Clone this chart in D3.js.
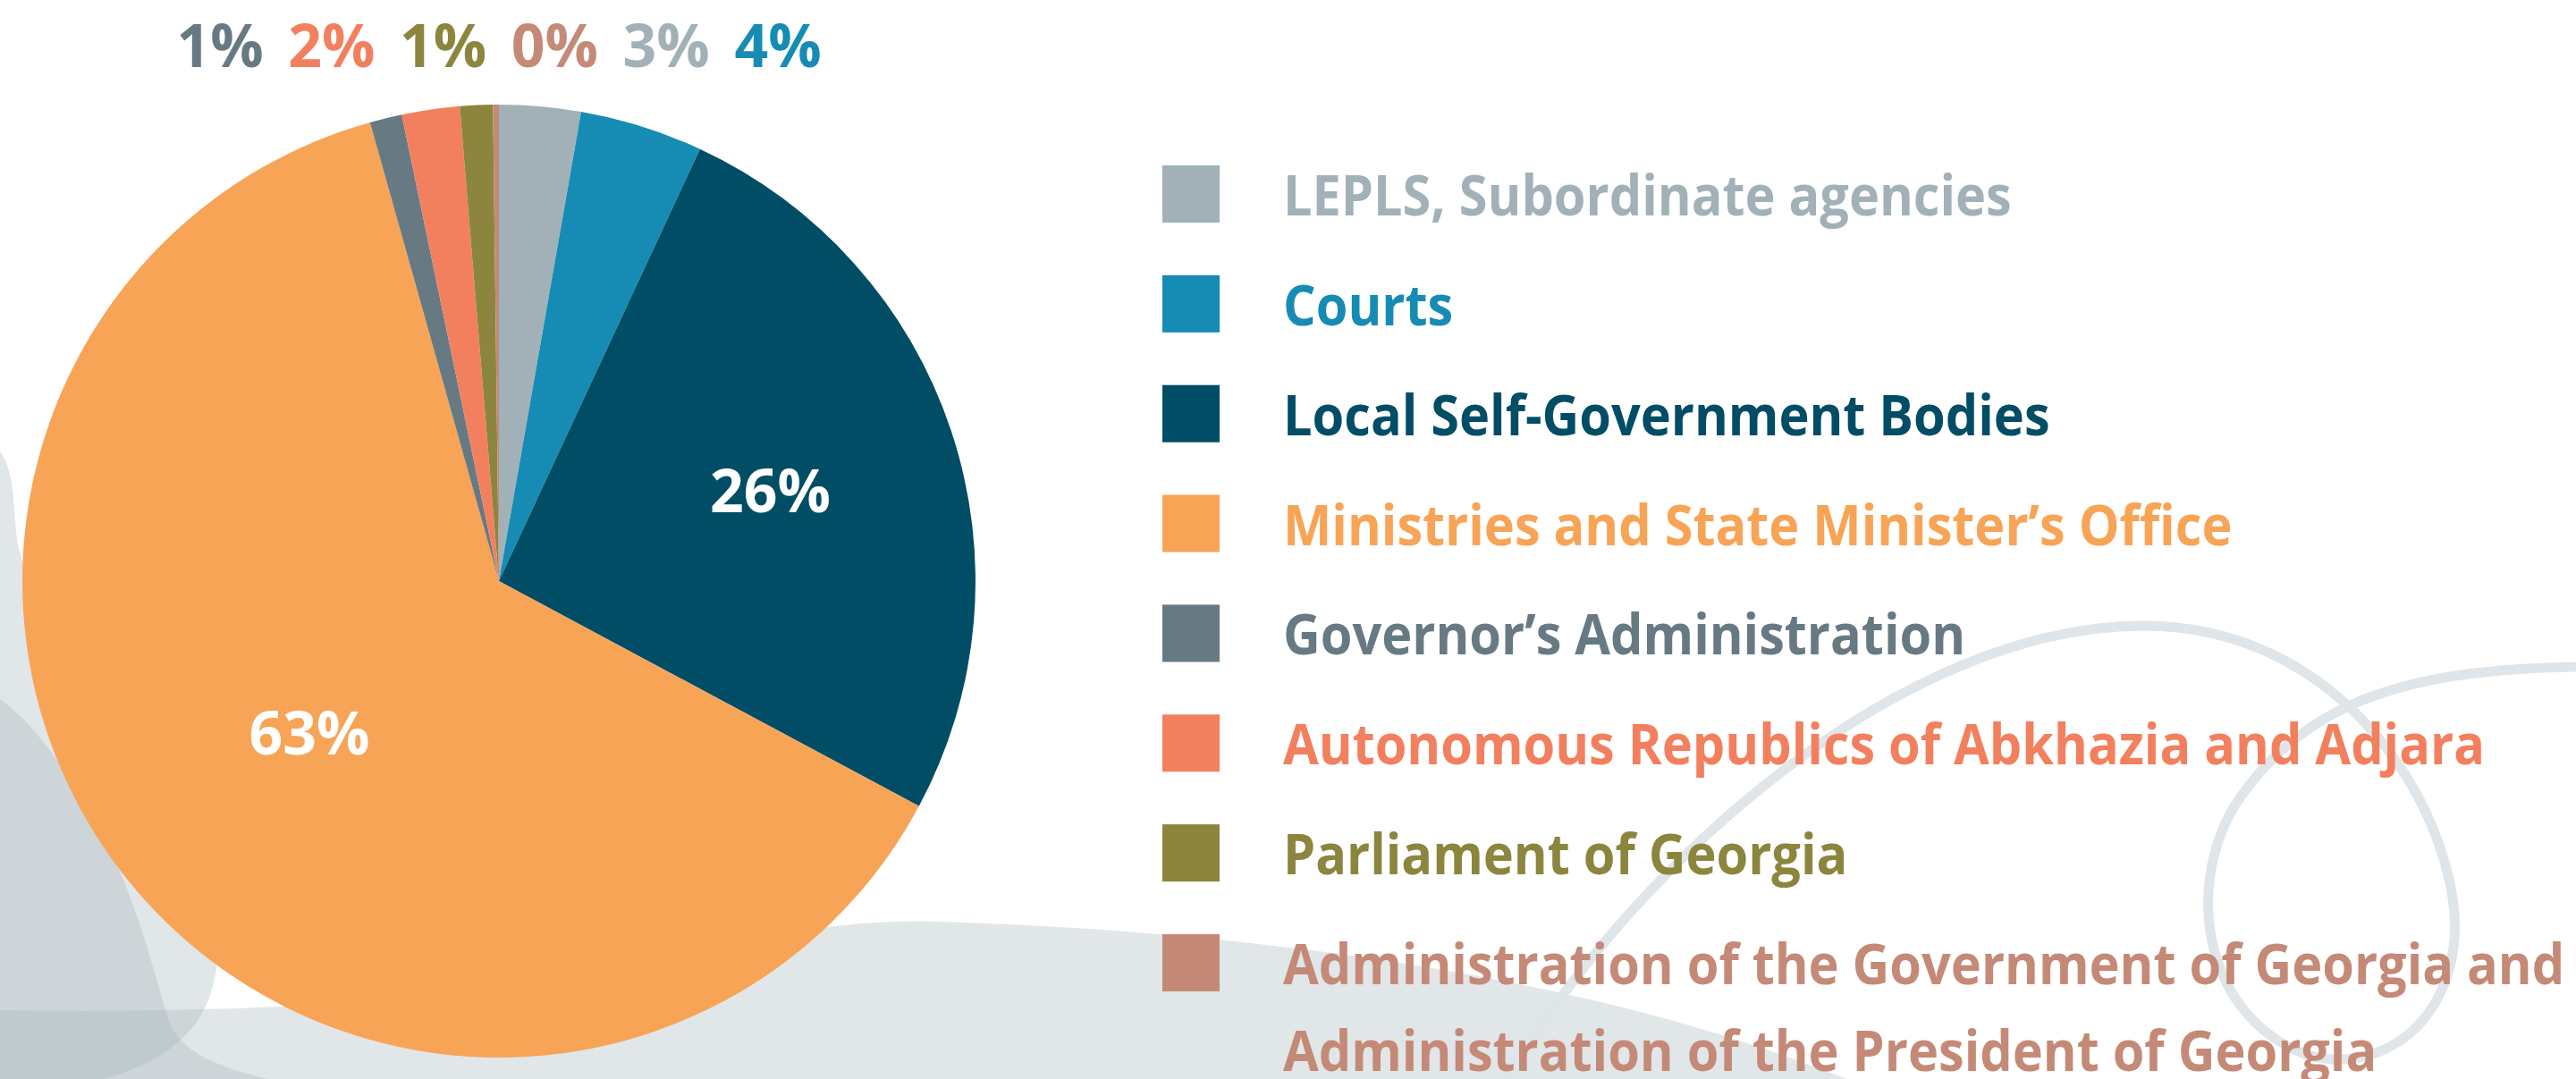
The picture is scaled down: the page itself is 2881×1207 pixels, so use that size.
<!DOCTYPE html>
<html>
<head>
<meta charset="utf-8">
<script src="https://cdn.jsdelivr.net/npm/d3@7"></script>
<style>
  html, body { margin: 0; padding: 0; background: #ffffff; }
  svg { display: block; }
  text { font-family: "Open Sans", "Noto Sans", sans-serif; font-weight: 700; }
</style>
</head>
<body>
<div id="chart_area"></div>
<script>
const width = 2881
const height = 1207

// slice order = clockwise from 12 o'clock, same order as the legend
var categories = ["LEPLS, Subordinate agencies", "Courts", "Local Self-Government Bodies",
  "Ministries and State Minister\u2019s Office", "Governor\u2019s Administration",
  "Autonomous Republics of Abkhazia and Adjara", "Parliament of Georgia",
  "Administration of the Government of Georgia and Administration of the President of Georgia"]
var shares = [2.76, 4.17, 25.9, 62.81, 1.09, 1.96, 1.11, 0.2]
var shareLabels = ["3%", "4%", "26%", "63%", "1%", "2%", "1%", "0%"]
// legend lines (last entry wraps on two lines)
var legendLines = [["LEPLS, Subordinate agencies"], ["Courts"], ["Local Self-Government Bodies"],
  ["Ministries and State Minister\u2019s Office"], ["Governor\u2019s Administration"],
  ["Autonomous Republics of Abkhazia and Adjara"], ["Parliament of Georgia"],
  ["Administration of the Government of Georgia and", "Administration of the President of Georgia"]]
// small slices get their label in a row above the pie, big ones inside
var topLabelIdx = [4, 5, 6, 7, 0, 1]
var insideLabelIdx = [2, 3]

var colors = ["#a2b1b7", "#168cb4", "#004d65", "#f8a457", "#677a83", "#f2805e", "#8c853e", "#c48a77"]
var insideLabelRadius = [0.6, 0.51]  // fraction of pie radius, per inside label

var cx = 558, cy = 650, radius = 533

var svg = d3.select("#chart_area")
  .append("svg")
  .attr("width", width)
  .attr("height", height)

// decorative background shapes
var bg = svg.append("g").attr("class", "background")
var shapeFill = "#a3b2ba"
bg.append("path")
  .attr("d", "M0,1130 C300,1134 520,1120 700,1080 C850,1045 950,1028 1046,1031 C1350,1040 1750,1080 2065,1207 L0,1207 Z")
  .attr("fill", shapeFill).attr("opacity", 0.33)
bg.append("path")
  .attr("d", "M0,505 C18,530 14,570 20,610 C60,760 200,900 240,1020 C252,1100 235,1175 115,1207 L0,1207 Z")
  .attr("fill", shapeFill).attr("opacity", 0.33)
bg.append("path")
  .attr("d", "M0,782 C40,810 90,880 126,957 C160,1030 175,1100 190,1145 C205,1180 250,1195 300,1207 L0,1207 Z")
  .attr("fill", shapeFill).attr("opacity", 0.33)
bg.append("path")
  .attr("d", "M1680,1215 C1830,960 2130,700 2397,700 C2640,700 2760,940 2744,1060 C2730,1160 2650,1200 2580,1180 C2470,1140 2440,1000 2500,900 C2580,780 2700,748 2890,746")
  .attr("fill", "none")
  .attr("stroke", "#dfe5e8")
  .attr("stroke-width", 11)

// pie
var pie = d3.pie().sort(null).value(function(d) { return d })
var arcs = pie(shares)
var arc = d3.arc().innerRadius(0).outerRadius(radius)

var g = svg.append("g").attr("transform", "translate(" + cx + "," + cy + ")")

g.selectAll("path.slice")
  .data(arcs)
  .enter()
  .append("path")
  .attr("class", "slice")
  .attr("d", arc)
  .attr("fill", function(d, i) { return colors[i] })

g.selectAll("text.inside")
  .data(insideLabelIdx)
  .enter()
  .append("text")
  .attr("class", "inside")
  .attr("transform", function(i, k) {
    var r = radius * insideLabelRadius[k]
    var labelArc = d3.arc().innerRadius(r).outerRadius(r)
    return "translate(" + labelArc.centroid(arcs[i]) + ")"
  })
  .attr("text-anchor", "middle")
  .attr("dy", "0.36em")
  .attr("font-size", 66)
  .attr("fill", "#ffffff")
  .text(function(i) { return shareLabels[i] })

// row of labels above the pie for the thin slices
var rowX = d3.scalePoint()
  .domain(topLabelIdx)
  .range([cx - 2.5 * 124.8, cx + 2.5 * 124.8])

svg.selectAll("text.top")
  .data(topLabelIdx)
  .enter()
  .append("text")
  .attr("class", "top")
  .attr("x", function(i) { return rowX(i) })
  .attr("y", 75)
  .attr("text-anchor", "middle")
  .attr("font-size", 66)
  .attr("fill", function(i) { return colors[i] })
  .text(function(i) { return shareLabels[i] })

// legend
var legendY = d3.scaleLinear().domain([0, 7]).range([185, 1045])
var legend = svg.append("g").attr("class", "legend")

var item = legend.selectAll("g.item")
  .data(categories)
  .enter()
  .append("g")
  .attr("class", "item")
  .attr("transform", function(d, i) { return "translate(1300," + legendY(i) + ")" })

item.append("rect")
  .attr("width", 64)
  .attr("height", 64)
  .attr("fill", function(d, i) { return colors[i] })

item.append("text")
  .attr("transform", "translate(135,56) scale(0.915,1)")
  .attr("font-size", 63)
  .attr("fill", function(d, i) { return colors[i] })
  .selectAll("tspan")
  .data(function(d, i) { return legendLines[i] })
  .enter()
  .append("tspan")
  .attr("x", 0)
  .attr("y", function(d, j) { return j * 97 })
  .text(function(d) { return d })
</script>
</body>
</html>
